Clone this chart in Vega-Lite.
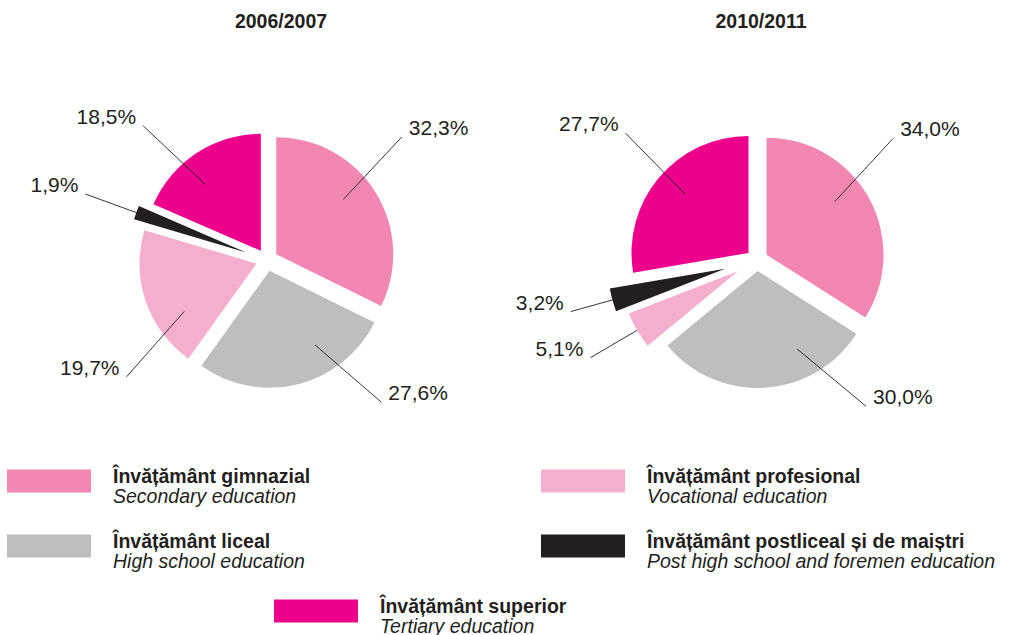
{
  "$schema": "https://vega.github.io/schema/vega-lite/v6.json",
  "padding": {"left": 7, "top": 11, "right": 0, "bottom": 0},
  "background": "white",
  "spacing": 14,
  "config": {"view": {"stroke": null}},
  "datasets": {
    "shares": [
      {"year": "2006/2007", "rank": 1, "category": "gimnazial", "value": 32.3},
      {"year": "2006/2007", "rank": 2, "category": "liceal", "value": 27.6},
      {"year": "2006/2007", "rank": 3, "category": "profesional", "value": 19.7},
      {"year": "2006/2007", "rank": 4, "category": "postliceal", "value": 1.9},
      {"year": "2006/2007", "rank": 5, "category": "superior", "value": 18.5},
      {"year": "2010/2011", "rank": 1, "category": "gimnazial", "value": 34.0},
      {"year": "2010/2011", "rank": 2, "category": "liceal", "value": 30.0},
      {"year": "2010/2011", "rank": 3, "category": "profesional", "value": 5.1},
      {"year": "2010/2011", "rank": 4, "category": "postliceal", "value": 3.2},
      {"year": "2010/2011", "rank": 5, "category": "superior", "value": 27.7}
    ],
    "legend": [
      {"rank": 1, "category": "gimnazial", "ro": "Învățământ gimnazial", "en": "Secondary education"},
      {"rank": 2, "category": "liceal", "ro": "Învățământ liceal", "en": "High school education"},
      {"rank": 3, "category": "profesional", "ro": "Învățământ profesional", "en": "Vocational education"},
      {"rank": 4, "category": "postliceal", "ro": "Învățământ postliceal și de maiștri", "en": "Post high school and foremen education"},
      {"rank": 5, "category": "superior", "ro": "Învățământ superior", "en": "Tertiary education"}
    ]
  },
  "vconcat": [
    {
      "hconcat": [
        {
          "width": 480, "height": 368,
          "title": {"text": "2006/2007", "font": "Liberation Sans", "fontSize": 19.5, "fontWeight": "bold", "color": "#231f20", "anchor": "middle", "baseline": "alphabetic", "dx": 34, "offset": 29},
          "data": {"name": "shares"},
          "transform": [
            {"filter": "datum.year === '2006/2007'"},
            {"window": [{"op": "sum", "field": "value", "as": "cum"}], "sort": [{"field": "rank"}], "frame": [null, 0]},
            {"joinaggregate": [{"op": "sum", "field": "value", "as": "total"}]},
            {"calculate": "datum.value < 10 ? 1 : 0", "as": "small"},
            {"window": [{"op": "sum", "field": "small", "as": "smallRank"}], "sort": [{"field": "rank"}], "frame": [null, 0]},
            {"calculate": "2*PI*(datum.cum - datum.value)/datum.total", "as": "a0"},
            {"calculate": "2*PI*datum.cum/datum.total", "as": "a1"},
            {"calculate": "(datum.a0 + datum.a1)/2", "as": "mid"},
            {"calculate": "0.094 * (datum.small ? 1 + datum.smallRank : 1)", "as": "ex"},
            {"calculate": "datum.ex*sin(datum.mid)", "as": "cx"},
            {"calculate": "datum.ex*cos(datum.mid)", "as": "cy"},
            {"calculate": "floor(datum.mid/(PI/2))*(PI/2) + PI/4", "as": "diag"},
            {"calculate": "datum.small ? datum.mid : datum.diag + 0.5*(datum.mid - datum.diag)", "as": "ls"},
            {"calculate": "datum.small ? datum.mid : datum.diag + 0.2*(datum.mid - datum.diag)", "as": "le"},
            {"calculate": "datum.small ? datum.ex + 1 : datum.ex + 0.74", "as": "rs"},
            {"calculate": "datum.small ? 1.65 : 1.56", "as": "re"},
            {"calculate": "datum.rs*sin(datum.ls)", "as": "lx0"},
            {"calculate": "datum.rs*cos(datum.ls)", "as": "ly0"},
            {"calculate": "datum.re*sin(datum.le)", "as": "lx1"},
            {"calculate": "datum.re*cos(datum.le)", "as": "ly1"},
            {"calculate": "replace(format(datum.value, '.1f'), '.', ',') + '%'", "as": "label"}
          ],
          "layer": [
            {
              "mark": {"type": "arc", "outerRadius": 117},
              "encoding": {
                "theta": {"field": "a0", "type": "quantitative", "scale": null},
                "theta2": {"field": "a1"},
                "x": {"field": "cx", "type": "quantitative", "scale": {"domain": [-2.22, 1.88], "nice": false, "zero": false}, "axis": null},
                "y": {"field": "cy", "type": "quantitative", "scale": {"domain": [-1.5726, 1.5726], "nice": false, "zero": false}, "axis": null},
                "color": {"field": "category", "type": "nominal", "legend": null, "scale": {"domain": ["gimnazial", "liceal", "profesional", "postliceal", "superior"], "range": ["#F287B4", "#BCBEC0", "#F4AFCF", "#231F20", "#EC008C"]}}
              }
            },
            {
              "mark": {"type": "rule", "color": "#231f20", "strokeWidth": 0.9},
              "encoding": {
                "x": {"field": "lx0", "type": "quantitative", "scale": {"domain": [-2.22, 1.88], "nice": false, "zero": false}, "axis": null},
                "y": {"field": "ly0", "type": "quantitative", "scale": {"domain": [-1.5726, 1.5726], "nice": false, "zero": false}, "axis": null},
                "x2": {"field": "lx1"},
                "y2": {"field": "ly1"}
              }
            },
            {
              "transform": [{"filter": "datum.lx1 >= 0"}],
              "mark": {"type": "text", "align": "left", "baseline": "middle", "dx": 7, "dy": -8, "font": "Liberation Sans", "fontSize": 21, "color": "#231f20"},
              "encoding": {
                "x": {"field": "lx1", "type": "quantitative", "scale": {"domain": [-2.22, 1.88], "nice": false, "zero": false}, "axis": null},
                "y": {"field": "ly1", "type": "quantitative", "scale": {"domain": [-1.5726, 1.5726], "nice": false, "zero": false}, "axis": null},
                "text": {"field": "label"}
              }
            },
            {
              "transform": [{"filter": "datum.lx1 < 0"}],
              "mark": {"type": "text", "align": "right", "baseline": "middle", "dx": -7, "dy": -8, "font": "Liberation Sans", "fontSize": 21, "color": "#231f20"},
              "encoding": {
                "x": {"field": "lx1", "type": "quantitative", "scale": {"domain": [-2.22, 1.88], "nice": false, "zero": false}, "axis": null},
                "y": {"field": "ly1", "type": "quantitative", "scale": {"domain": [-1.5726, 1.5726], "nice": false, "zero": false}, "axis": null},
                "text": {"field": "label"}
              }
            }
          ]
        },
        {
          "width": 480, "height": 368,
          "title": {"text": "2010/2011", "font": "Liberation Sans", "fontSize": 19.5, "fontWeight": "bold", "color": "#231f20", "anchor": "middle", "baseline": "alphabetic", "dx": 24, "offset": 29},
          "data": {"name": "shares"},
          "transform": [
            {"filter": "datum.year === '2010/2011'"},
            {"window": [{"op": "sum", "field": "value", "as": "cum"}], "sort": [{"field": "rank"}], "frame": [null, 0]},
            {"joinaggregate": [{"op": "sum", "field": "value", "as": "total"}]},
            {"calculate": "datum.value < 10 ? 1 : 0", "as": "small"},
            {"window": [{"op": "sum", "field": "small", "as": "smallRank"}], "sort": [{"field": "rank"}], "frame": [null, 0]},
            {"calculate": "2*PI*(datum.cum - datum.value)/datum.total", "as": "a0"},
            {"calculate": "2*PI*datum.cum/datum.total", "as": "a1"},
            {"calculate": "(datum.a0 + datum.a1)/2", "as": "mid"},
            {"calculate": "0.094 * (datum.small ? 1 + datum.smallRank : 1)", "as": "ex"},
            {"calculate": "datum.ex*sin(datum.mid)", "as": "cx"},
            {"calculate": "datum.ex*cos(datum.mid)", "as": "cy"},
            {"calculate": "floor(datum.mid/(PI/2))*(PI/2) + PI/4", "as": "diag"},
            {"calculate": "datum.small ? datum.mid : datum.diag + 0.5*(datum.mid - datum.diag)", "as": "ls"},
            {"calculate": "datum.small ? datum.mid : datum.diag + 0.2*(datum.mid - datum.diag)", "as": "le"},
            {"calculate": "datum.small ? datum.ex + 1 : datum.ex + 0.74", "as": "rs"},
            {"calculate": "datum.small ? 1.65 : 1.56", "as": "re"},
            {"calculate": "datum.rs*sin(datum.ls)", "as": "lx0"},
            {"calculate": "datum.rs*cos(datum.ls)", "as": "ly0"},
            {"calculate": "datum.re*sin(datum.le)", "as": "lx1"},
            {"calculate": "datum.re*cos(datum.le)", "as": "ly1"},
            {"calculate": "replace(format(datum.value, '.1f'), '.', ',') + '%'", "as": "label"}
          ],
          "layer": [
            {
              "mark": {"type": "arc", "outerRadius": 117},
              "encoding": {
                "theta": {"field": "a0", "type": "quantitative", "scale": null},
                "theta2": {"field": "a1"},
                "x": {"field": "cx", "type": "quantitative", "scale": {"domain": [-2.22, 1.88], "nice": false, "zero": false}, "axis": null},
                "y": {"field": "cy", "type": "quantitative", "scale": {"domain": [-1.5726, 1.5726], "nice": false, "zero": false}, "axis": null},
                "color": {"field": "category", "type": "nominal", "legend": null, "scale": {"domain": ["gimnazial", "liceal", "profesional", "postliceal", "superior"], "range": ["#F287B4", "#BCBEC0", "#F4AFCF", "#231F20", "#EC008C"]}}
              }
            },
            {
              "mark": {"type": "rule", "color": "#231f20", "strokeWidth": 0.9},
              "encoding": {
                "x": {"field": "lx0", "type": "quantitative", "scale": {"domain": [-2.22, 1.88], "nice": false, "zero": false}, "axis": null},
                "y": {"field": "ly0", "type": "quantitative", "scale": {"domain": [-1.5726, 1.5726], "nice": false, "zero": false}, "axis": null},
                "x2": {"field": "lx1"},
                "y2": {"field": "ly1"}
              }
            },
            {
              "transform": [{"filter": "datum.lx1 >= 0"}],
              "mark": {"type": "text", "align": "left", "baseline": "middle", "dx": 7, "dy": -8, "font": "Liberation Sans", "fontSize": 21, "color": "#231f20"},
              "encoding": {
                "x": {"field": "lx1", "type": "quantitative", "scale": {"domain": [-2.22, 1.88], "nice": false, "zero": false}, "axis": null},
                "y": {"field": "ly1", "type": "quantitative", "scale": {"domain": [-1.5726, 1.5726], "nice": false, "zero": false}, "axis": null},
                "text": {"field": "label"}
              }
            },
            {
              "transform": [{"filter": "datum.lx1 < 0"}],
              "mark": {"type": "text", "align": "right", "baseline": "middle", "dx": -7, "dy": -8, "font": "Liberation Sans", "fontSize": 21, "color": "#231f20"},
              "encoding": {
                "x": {"field": "lx1", "type": "quantitative", "scale": {"domain": [-2.22, 1.88], "nice": false, "zero": false}, "axis": null},
                "y": {"field": "ly1", "type": "quantitative", "scale": {"domain": [-1.5726, 1.5726], "nice": false, "zero": false}, "axis": null},
                "text": {"field": "label"}
              }
            }
          ]
        }
      ],
      "spacing": 10,
      "bounds": "flush"
    },
    {
      "width": 1000, "height": 160,
      "data": {"name": "legend"},
      "transform": [
        {"calculate": "datum.rank == 5 ? 0.5 : (datum.rank >= 3 ? 1 : 0)", "as": "col"},
        {"calculate": "datum.rank == 5 ? 2 : (datum.rank - 1) % 2", "as": "row"}
      ],
      "layer": [
        {
          "mark": {"type": "rect", "x2Offset": 84, "yOffset": -11.5, "y2Offset": 11.5},
          "encoding": {
            "x": {"field": "col", "type": "quantitative", "scale": {"domain": [0, 1], "range": [0, 534], "nice": false, "zero": false}, "axis": null},
            "x2": {"field": "col"},
            "y": {"field": "row", "type": "quantitative", "scale": {"domain": [0, 2], "range": [23, 153], "nice": false, "zero": false}, "axis": null},
            "y2": {"field": "row"},
            "color": {"field": "category", "type": "nominal", "legend": null, "scale": {"domain": ["gimnazial", "liceal", "profesional", "postliceal", "superior"], "range": ["#F287B4", "#BCBEC0", "#F4AFCF", "#231F20", "#EC008C"]}}
          }
        },
        {
          "mark": {"type": "text", "align": "left", "baseline": "alphabetic", "dx": 106, "dy": 2, "font": "Liberation Sans", "fontSize": 19.5, "fontWeight": "bold", "color": "#231f20"},
          "encoding": {
            "x": {"field": "col", "type": "quantitative", "scale": {"domain": [0, 1], "range": [0, 534], "nice": false, "zero": false}, "axis": null},
            "y": {"field": "row", "type": "quantitative", "scale": {"domain": [0, 2], "range": [23, 153], "nice": false, "zero": false}, "axis": null},
            "text": {"field": "ro"}
          }
        },
        {
          "mark": {"type": "text", "align": "left", "baseline": "alphabetic", "dx": 106, "dy": 22, "font": "Liberation Sans", "fontSize": 19.5, "fontStyle": "italic", "color": "#231f20"},
          "encoding": {
            "x": {"field": "col", "type": "quantitative", "scale": {"domain": [0, 1], "range": [0, 534], "nice": false, "zero": false}, "axis": null},
            "y": {"field": "row", "type": "quantitative", "scale": {"domain": [0, 2], "range": [23, 153], "nice": false, "zero": false}, "axis": null},
            "text": {"field": "en"}
          }
        }
      ]
    }
  ]
}
